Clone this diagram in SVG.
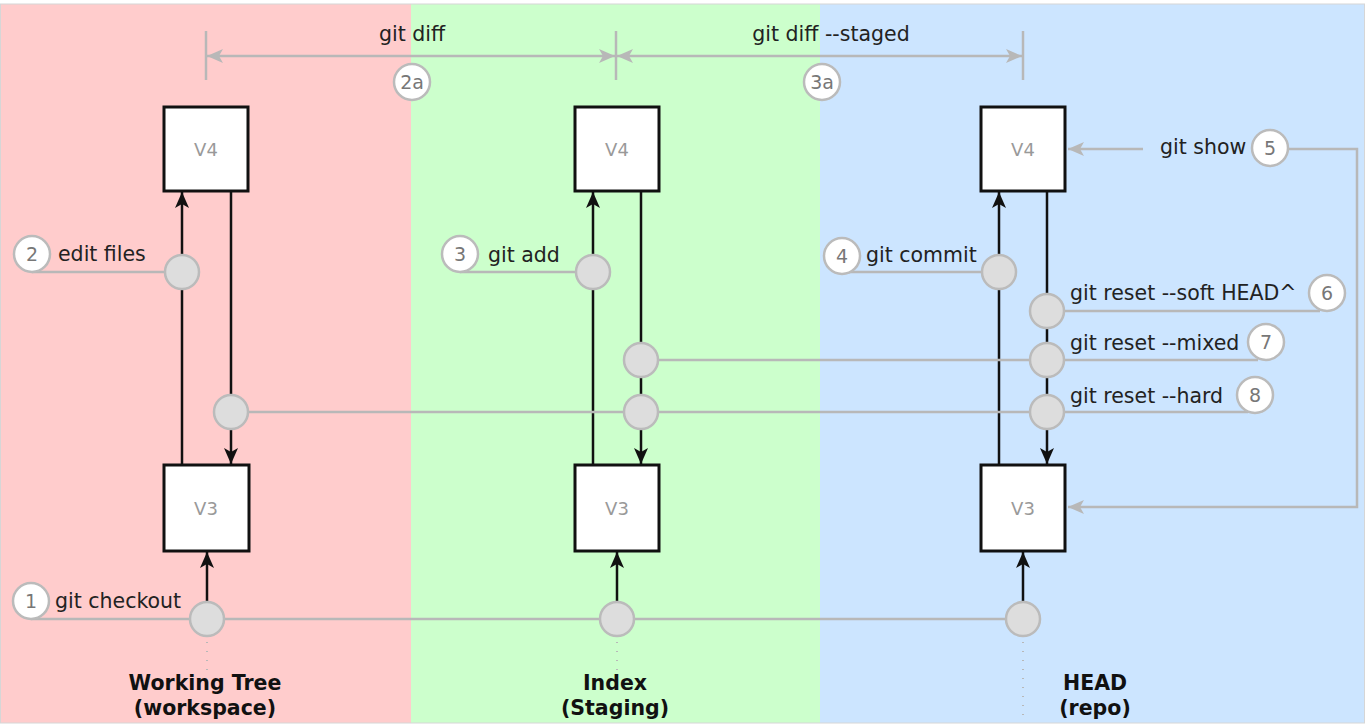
<svg xmlns="http://www.w3.org/2000/svg" width="1365" height="726" viewBox="0 0 1365 726">
<style>
.lbl{font-family:"DejaVu Sans","Verdana",sans-serif;font-size:20.5px;fill:#222}
.num{font-family:"DejaVu Sans","Verdana",sans-serif;font-size:19px;fill:#777;text-anchor:middle}
.ver{font-family:"DejaVu Sans","Verdana",sans-serif;font-size:18px;fill:#999;text-anchor:middle}
.ttl{font-family:"DejaVu Sans","Verdana",sans-serif;font-size:20.5px;font-weight:bold;fill:#111;text-anchor:middle}
.box{fill:#fff;stroke:#111;stroke-width:3}
.blk{stroke:#111;stroke-width:2.5;fill:none}
.gry{stroke:#b8b8b8;stroke-width:2.5;fill:none}
.dot{stroke:#b8b8b8;stroke-width:2;stroke-dasharray:1 8;fill:none}
.jn{fill:#ddd;stroke:#bbb;stroke-width:2.5}
.nc{fill:#fff;stroke:#bbb;stroke-width:2.5}
</style>
<defs>
<marker id="ab" markerUnits="userSpaceOnUse" markerWidth="18" markerHeight="18" refX="16" refY="8" orient="auto-start-reverse" viewBox="0 0 18 16">
<path d="M0,1 L16,8 L0,15 L4,8 z" fill="#111"/>
</marker>
<marker id="ag" markerUnits="userSpaceOnUse" markerWidth="18" markerHeight="18" refX="16" refY="8" orient="auto-start-reverse" viewBox="0 0 18 16">
<path d="M0,1 L16,8 L0,15 L4,8 z" fill="#b8b8b8"/>
</marker>
</defs>
<g id="background">
<rect x="0" y="0" width="1365" height="726" fill="#fff"/>
<rect x="0" y="4" width="411" height="719" fill="#ffcccc"/>
<rect x="411" y="4" width="409" height="719" fill="#ccffcc"/>
<rect x="820" y="4" width="545" height="719" fill="#cce5ff"/>
<rect x="0.5" y="4" width="1364" height="719" fill="none" stroke="#d6d6d6" stroke-width="1"/>
</g>
<g id="connectors">
<line class="gry" x1="206" y1="31" x2="206" y2="80"/>
<line class="gry" x1="616" y1="31" x2="616" y2="80"/>
<line class="gry" x1="1023" y1="31" x2="1023" y2="80"/>
<line class="gry" x1="207" y1="56" x2="615" y2="56" marker-start="url(#ag)" marker-end="url(#ag)"/>
<line class="gry" x1="617" y1="56" x2="1022" y2="56" marker-start="url(#ag)" marker-end="url(#ag)"/>
<line class="blk" x1="182" y1="465" x2="182" y2="192" marker-end="url(#ab)"/>
<line class="blk" x1="231" y1="191" x2="231" y2="464" marker-end="url(#ab)"/>
<line class="blk" x1="593" y1="465" x2="593" y2="192" marker-end="url(#ab)"/>
<line class="blk" x1="641" y1="191" x2="641" y2="464" marker-end="url(#ab)"/>
<line class="blk" x1="999" y1="465" x2="999" y2="192" marker-end="url(#ab)"/>
<line class="blk" x1="1047" y1="191" x2="1047" y2="464" marker-end="url(#ab)"/>
<line class="blk" x1="207" y1="602" x2="207" y2="552" marker-end="url(#ab)"/>
<line class="blk" x1="617" y1="602" x2="617" y2="552" marker-end="url(#ab)"/>
<line class="blk" x1="1023" y1="602" x2="1023" y2="552" marker-end="url(#ab)"/>
<line class="gry" x1="32" y1="272" x2="182" y2="272"/>
<line class="gry" x1="460" y1="272" x2="593" y2="272"/>
<line class="gry" x1="842" y1="272" x2="999" y2="272"/>
<line class="gry" x1="31" y1="619" x2="1023" y2="619"/>
<line class="gry" x1="1047" y1="311" x2="1320" y2="311"/>
<line class="gry" x1="641" y1="360" x2="1258" y2="360"/>
<line class="gry" x1="231" y1="412" x2="1248" y2="412"/>
<line class="gry" x1="1143" y1="149" x2="1068" y2="149" marker-end="url(#ag)"/>
<polyline class="gry" points="1287,149 1357,149 1357,507 1068,507" marker-end="url(#ag)"/>
<line class="dot" x1="207" y1="642" x2="207" y2="672"/>
<line class="dot" x1="617" y1="642" x2="617" y2="672"/>
<line class="dot" x1="1023" y1="642" x2="1023" y2="722"/>
</g>
<g id="wt-v4"><rect class="box" x="164" y="107" width="84" height="84"/><text class="ver" x="206" y="156">V4</text></g>
<g id="wt-v3"><rect class="box" x="164" y="465" width="85" height="86"/><text class="ver" x="206" y="515">V3</text></g>
<g id="ix-v4"><rect class="box" x="575" y="107" width="84" height="84"/><text class="ver" x="617" y="156">V4</text></g>
<g id="ix-v3"><rect class="box" x="575" y="465" width="84" height="86"/><text class="ver" x="617" y="515">V3</text></g>
<g id="hd-v4"><rect class="box" x="981" y="107" width="84" height="84"/><text class="ver" x="1023" y="156">V4</text></g>
<g id="hd-v3"><rect class="box" x="981" y="465" width="84" height="86"/><text class="ver" x="1023" y="515">V3</text></g>
<g id="junctions">
<circle class="jn" cx="182" cy="272" r="17"/>
<circle class="jn" cx="231" cy="412" r="17"/>
<circle class="jn" cx="593" cy="272" r="17"/>
<circle class="jn" cx="641" cy="360" r="17"/>
<circle class="jn" cx="641" cy="412" r="17"/>
<circle class="jn" cx="999" cy="272" r="17"/>
<circle class="jn" cx="1047" cy="311" r="17"/>
<circle class="jn" cx="1047" cy="360" r="17"/>
<circle class="jn" cx="1047" cy="412" r="17"/>
<circle class="jn" cx="207" cy="619" r="17"/>
<circle class="jn" cx="617" cy="619" r="17"/>
<circle class="jn" cx="1023" cy="619" r="17"/>
</g>
<g id="step-2a"><circle class="nc" cx="412" cy="82" r="18"/><text class="num" x="412" y="89">2a</text><text class="lbl" x="412" y="41" text-anchor="middle">git diff</text></g>
<g id="step-3a"><circle class="nc" cx="822" cy="82" r="18"/><text class="num" x="822" y="89">3a</text><text class="lbl" x="831" y="41" text-anchor="middle">git diff --staged</text></g>
<g id="step-1"><circle class="nc" cx="31" cy="601" r="18"/><text class="num" x="31" y="608">1</text><text class="lbl" x="55" y="608">git checkout</text></g>
<g id="step-2"><circle class="nc" cx="32" cy="254" r="18"/><text class="num" x="32" y="261">2</text><text class="lbl" x="58" y="261">edit files</text></g>
<g id="step-3"><circle class="nc" cx="460" cy="254" r="18"/><text class="num" x="460" y="261">3</text><text class="lbl" x="488" y="262">git add</text></g>
<g id="step-4"><circle class="nc" cx="842" cy="256" r="18"/><text class="num" x="842" y="263">4</text><text class="lbl" x="866" y="262">git commit</text></g>
<g id="step-5"><circle class="nc" cx="1270" cy="148" r="18"/><text class="num" x="1270" y="155">5</text><text class="lbl" x="1160" y="154">git show</text></g>
<g id="step-6"><circle class="nc" cx="1327" cy="293" r="18"/><text class="num" x="1327" y="300">6</text><text class="lbl" x="1070" y="300">git reset --soft HEAD^</text></g>
<g id="step-7"><circle class="nc" cx="1266" cy="342" r="18"/><text class="num" x="1266" y="349">7</text><text class="lbl" x="1070" y="350">git reset --mixed</text></g>
<g id="step-8"><circle class="nc" cx="1255" cy="395" r="18"/><text class="num" x="1255" y="402">8</text><text class="lbl" x="1070" y="403">git reset --hard</text></g>
<g id="title-wt"><text class="ttl" x="205" y="690">Working Tree</text><text class="ttl" x="205" y="715">(workspace)</text></g>
<g id="title-ix"><text class="ttl" x="615" y="690">Index</text><text class="ttl" x="615" y="715">(Staging)</text></g>
<g id="title-hd"><text class="ttl" x="1095" y="690">HEAD</text><text class="ttl" x="1095" y="715">(repo)</text></g>
</svg>
